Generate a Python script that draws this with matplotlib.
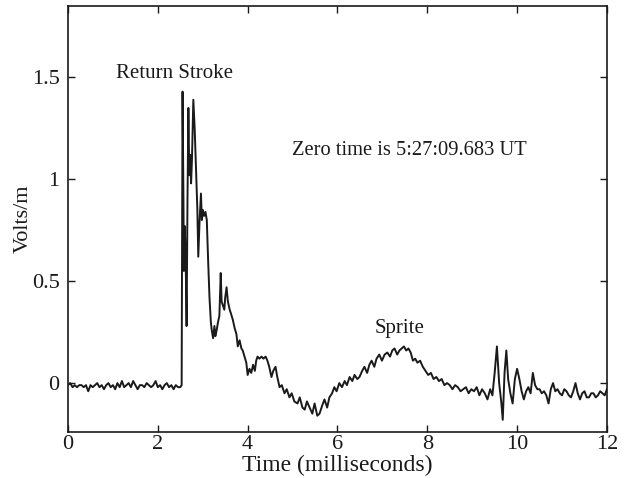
import matplotlib
matplotlib.use("Agg")
import matplotlib.pyplot as plt

# ---- data ----
time_ms = [
    0.00, 0.05, 0.10, 0.15, 0.20, 0.25, 0.30, 0.35, 0.40, 0.45,
    0.50, 0.55, 0.60, 0.65, 0.70, 0.75, 0.80, 0.85, 0.90, 0.95,
    1.00, 1.05, 1.10, 1.15, 1.20, 1.25, 1.30, 1.35, 1.40, 1.45,
    1.50, 1.55, 1.60, 1.65, 1.70, 1.75, 1.80, 1.85, 1.90, 1.95,
    2.00, 2.05, 2.10, 2.15, 2.20, 2.25, 2.30, 2.35, 2.40, 2.45,
    2.50, 2.53, 2.55, 2.57, 2.58, 2.60, 2.62, 2.64, 2.66, 2.68,
    2.70, 2.72, 2.74, 2.76, 2.79, 2.82, 2.85, 2.88, 2.90, 2.93,
    2.96, 2.98, 3.00, 3.03, 3.06, 3.09, 3.12, 3.15, 3.18, 3.20,
    3.23, 3.26, 3.28, 3.31, 3.34, 3.37, 3.40, 3.42, 3.45, 3.48,
    3.50, 3.53, 3.56, 3.60, 3.63, 3.67, 3.71, 3.75, 3.78, 3.82,
    3.86, 3.89, 3.93, 3.97, 4.00, 4.04, 4.08, 4.12, 4.16, 4.19,
    4.22, 4.26, 4.31, 4.35, 4.40, 4.44, 4.48, 4.53, 4.57, 4.62,
    4.66, 4.71, 4.76, 4.82, 4.87, 4.93, 4.98, 5.04, 5.11, 5.16,
    5.22, 5.27, 5.32, 5.38, 5.44, 5.49, 5.55, 5.60, 5.66, 5.71,
    5.77, 5.82, 5.88, 5.93, 5.98, 6.04, 6.10, 6.16, 6.21, 6.27,
    6.33, 6.38, 6.44, 6.49, 6.55, 6.60, 6.66, 6.71, 6.76, 6.82,
    6.87, 6.93, 6.99, 7.05, 7.11, 7.17, 7.22, 7.27, 7.33, 7.38,
    7.43, 7.48, 7.53, 7.58, 7.63, 7.68, 7.73, 7.78, 7.84, 7.90,
    7.96, 8.02, 8.08, 8.14, 8.20, 8.26, 8.32, 8.38, 8.44, 8.50,
    8.56, 8.62, 8.68, 8.74, 8.80, 8.86, 8.92, 8.98, 9.04, 9.10,
    9.16, 9.22, 9.28, 9.34, 9.40, 9.45, 9.50, 9.55, 9.60, 9.65,
    9.68, 9.72, 9.76, 9.80, 9.85, 9.90, 9.95, 10.00, 10.05, 10.10,
    10.15, 10.20, 10.25, 10.30, 10.35, 10.40, 10.45, 10.50, 10.55, 10.60,
    10.65, 10.70, 10.75, 10.80, 10.85, 10.90, 10.95, 11.00, 11.05, 11.10,
    11.15, 11.20, 11.25, 11.30, 11.35, 11.40, 11.45, 11.50, 11.55, 11.60,
    11.65, 11.70, 11.75, 11.80, 11.85, 11.90, 11.95, 12.00,
]
volts = [
    -0.01, 0.00, -0.02, -0.01, -0.02, -0.01, -0.01, -0.02, -0.01, -0.04,
    -0.01, -0.02, -0.01, 0.00, -0.02, -0.01, -0.03, -0.01, 0.00, -0.02,
    -0.01, -0.03, 0.00, -0.02, 0.01, -0.02, -0.01, 0.00, -0.02, 0.01,
    -0.01, -0.03, -0.01, -0.01, -0.02, 0.00, -0.01, -0.02, -0.01, 0.01,
    -0.02, -0.01, -0.03, -0.01, 0.00, -0.02, -0.01, -0.03, -0.01, -0.02,
    -0.02, -0.01, 1.43, 0.90, 0.55, 0.77, 0.60, 0.28, 0.90, 1.35,
    1.02, 1.12, 0.98, 1.10, 1.39, 1.25, 1.05, 0.85, 0.62, 0.80,
    0.93, 0.80, 0.85, 0.82, 0.84, 0.80, 0.60, 0.42, 0.30, 0.26,
    0.22, 0.28, 0.23, 0.26, 0.30, 0.33, 0.54, 0.40, 0.38, 0.36,
    0.42, 0.47, 0.40, 0.36, 0.34, 0.31, 0.27, 0.24, 0.18, 0.21,
    0.17, 0.16, 0.13, 0.10, 0.04, 0.07, 0.05, 0.09, 0.06, 0.11,
    0.13, 0.12, 0.13, 0.12, 0.13, 0.11, 0.08, 0.03, 0.06, 0.08,
    0.03, -0.02, -0.01, -0.05, -0.03, -0.07, -0.05, -0.09, -0.10, -0.07,
    -0.12, -0.13, -0.09, -0.12, -0.15, -0.10, -0.16, -0.15, -0.11, -0.08,
    -0.12, -0.07, -0.05, -0.02, -0.04, 0.00, -0.02, 0.01, -0.01, 0.03,
    0.01, 0.04, 0.02, 0.03, 0.06, 0.08, 0.05, 0.09, 0.11, 0.08,
    0.12, 0.14, 0.11, 0.14, 0.15, 0.13, 0.16, 0.17, 0.14, 0.16,
    0.17, 0.18, 0.16, 0.17, 0.15, 0.11, 0.12, 0.10, 0.11, 0.08,
    0.06, 0.04, 0.05, 0.02, 0.03, 0.01, 0.02, -0.01, 0.00, -0.01,
    -0.03, -0.01, -0.02, -0.04, -0.03, -0.02, -0.05, -0.03, -0.04, -0.02,
    -0.06, -0.03, -0.05, -0.08, -0.03, -0.06, 0.05, 0.18, 0.00, -0.10,
    -0.18, 0.05, 0.16, 0.02, -0.05, -0.10, 0.02, 0.07, 0.02, -0.04,
    -0.08, -0.04, -0.02, -0.05, 0.05, -0.01, -0.03, -0.03, -0.05, -0.04,
    -0.06, -0.10, -0.03, 0.00, -0.04, -0.03, -0.05, -0.06, -0.03, -0.04,
    -0.06, -0.07, -0.04, 0.00, -0.05, -0.08, -0.05, -0.04, -0.07, -0.07,
    -0.05, -0.05, -0.07, -0.06, -0.04, -0.05, -0.06, -0.03,
]

x_ticks = [0, 2, 4, 6, 8, 10, 12]
y_ticks = [0, 0.5, 1, 1.5]
y_tick_labels = ["0", "0.5", "1", "1.5"]

plt.rcParams["font.family"] = ["Liberation Serif", "DejaVu Serif"]

fig = plt.figure(figsize=(6.27, 4.78), dpi=100)
ax = fig.add_axes([0.1085, 0.0962, 0.8595, 0.8912])
ax.plot(time_ms, volts, color="#1a1a1a", linewidth=1.4)

ax.set_xlim(0, 12)
ax.set_ylim(-0.24, 1.85)
ax.set_xticks(x_ticks)
ax.set_xticklabels([str(v) for v in x_ticks])
ax.set_yticks(y_ticks)
ax.set_yticklabels(y_tick_labels)
ax.tick_params(direction="in", length=5, width=1, top=True, right=True,
               labelsize=16, colors="#1a1a1a")
ax.tick_params(axis="x", pad=2)
ax.tick_params(axis="y", pad=6)
for s in ax.spines.values():
    s.set_linewidth(1.2)
    s.set_color("#1a1a1a")

ax.set_xlabel("Time (milliseconds)", fontsize=17, labelpad=1, color="#1a1a1a")
ax.set_ylabel("Volts/m", fontsize=16, labelpad=-1, color="#1a1a1a")

ax.text(2.36, 1.52, "Return Stroke", fontsize=15, ha="center", va="center", color="#1a1a1a")
ax.text(7.6, 1.14, "Zero time is 5:27:09.683 UT", fontsize=14.8, ha="center", va="center", color="#1a1a1a")
ax.text(7.38, 0.27, "Sprite", fontsize=15, ha="center", va="center", color="#1a1a1a")

fig.savefig("out.png", dpi=100)
